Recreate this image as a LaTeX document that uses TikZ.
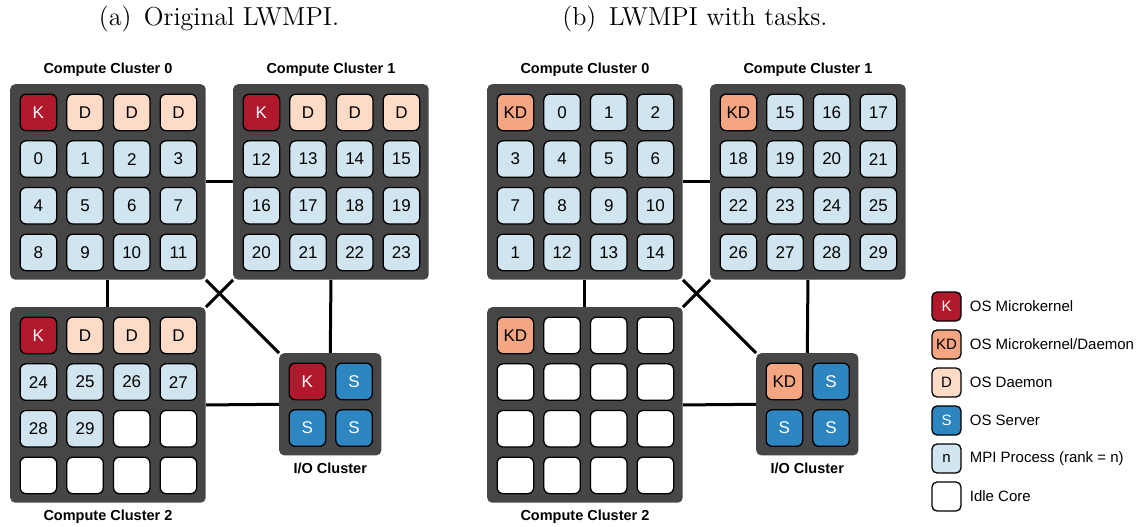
\documentclass[tikz,border=0pt]{standalone}
\usepackage{fontspec}
\newfontfamily\arialfont{Liberation Sans}
\newfontfamily\titlefont{lmroman12-regular}[Extension=.otf]
\pgfdeclarelayer{background}
\pgfsetlayers{background,main}

\definecolor{boxgray}{HTML}{464646}
\definecolor{kred}{HTML}{B2182B}
\definecolor{kdorange}{HTML}{F4A582}
\definecolor{dpeach}{HTML}{FDDBC7}
\definecolor{sblue}{HTML}{2E86C1}
\definecolor{nblue}{HTML}{D1E5F0}

\tikzset{
  clusterbox/.style={fill=boxgray, rounded corners=5pt, inner sep=0pt, anchor=north west},
  core/.style={draw=black, line width=1.3pt, rounded corners=6pt,
    minimum width=36.5pt, minimum height=36.5pt, inner sep=0pt, anchor=north west,
    font=\arialfont\fontsize{17}{17}\selectfont},
  legcore/.style={core, minimum width=29pt, minimum height=29pt, rounded corners=5pt,
    font=\arialfont\fontsize{15}{15}\selectfont, anchor=center},
  legtext/.style={anchor=west, inner sep=0pt, font=\arialfont\fontsize{15}{15}\selectfont},
  clabel/.style={inner sep=0pt, font=\arialfont\bfseries\fontsize{14.5}{14.5}\selectfont},
  link/.style={line width=3pt, black},
  subtitle/.style={anchor=base, inner sep=0pt, font=\titlefont\fontsize{26}{30}\selectfont},
}

% #1 name, #2 left, #3 top, #4 cores per row, #5 list fill/text/label
\newcommand\drawcluster[5]{%
  \pgfmathsetmacro\csize{2*9.5+(#4-1)*46.67+36.5}
  \node[clusterbox, minimum width=\csize pt, minimum height=\csize pt] (#1) at (#2,#3) {};
  \foreach \fc/\tc/\lab [count=\i from 0] in {#5}{
    \pgfmathtruncatemacro\col{mod(\i,#4)}
    \pgfmathtruncatemacro\row{div(\i,#4)}
    \node[core, fill=\fc, text=\tc] (#1-\i) at ({#2+9.5+46.67*\col},{#3+9.5+46.67*\row}) {\lab};
  }
}

% network links between the four clusters of one board
\newcommand\drawlinks[1]{%
  \begin{pgfonlayer}{background}
    \draw[link] (#10.east) -- (#11.west);
    \draw[link] (#10.south) -- (#12.north);
    \draw[link] (#11.south) -- (#1io.north);
    \draw[link] (#12.east) -- (#1io.west);
    \draw[link] (#10.south east) -- (#1io.north west);
    \draw[link] (#11.south west) -- (#12.north east);
  \end{pgfonlayer}
}

\newcommand\drawlabels[1]{%
  \node[clabel, above=7pt] (#10l) at (#10.north) {Compute Cluster 0};
  \node[clabel, above=7pt] (#11l) at (#11.north) {Compute Cluster 1};
  \node[clabel, below=7pt] (#12l) at (#12.south) {Compute Cluster 2};
  \node[clabel, below=7pt] (#1iol) at (#1io.south) {I/O Cluster};
}

\begin{document}
\begin{tikzpicture}[x=1pt, y=-1pt]
\useasboundingbox (0,0) rectangle (1143,527);

\node[subtitle] (ta) at (219,26) {(a)\hspace{4pt} Original LWMPI.};
\node[subtitle] (tb) at (695,26) {(b)\hspace{4pt} LWMPI with tasks.};

% ---- (a) original LWMPI ----
\drawcluster{a0}{10}{84}{4}{kred/white/K, dpeach/black/D, dpeach/black/D, dpeach/black/D,
  nblue/black/0, nblue/black/1, nblue/black/2, nblue/black/3,
  nblue/black/4, nblue/black/5, nblue/black/6, nblue/black/7,
  nblue/black/8, nblue/black/9, nblue/black/10, nblue/black/11}
\drawcluster{a1}{233}{84}{4}{kred/white/K, dpeach/black/D, dpeach/black/D, dpeach/black/D,
  nblue/black/12, nblue/black/13, nblue/black/14, nblue/black/15,
  nblue/black/16, nblue/black/17, nblue/black/18, nblue/black/19,
  nblue/black/20, nblue/black/21, nblue/black/22, nblue/black/23}
\drawcluster{a2}{10}{307}{4}{kred/white/K, dpeach/black/D, dpeach/black/D, dpeach/black/D,
  nblue/black/24, nblue/black/25, nblue/black/26, nblue/black/27,
  nblue/black/28, nblue/black/29, white/black/{}, white/black/{},
  white/black/{}, white/black/{}, white/black/{}, white/black/{}}
\drawcluster{aio}{279}{353}{2}{kred/white/K, sblue/white/S, sblue/white/S, sblue/white/S}
\drawlinks{a}
\drawlabels{a}

% ---- (b) LWMPI with tasks ----
\drawcluster{b0}{487}{84}{4}{kdorange/black/KD, nblue/black/0, nblue/black/1, nblue/black/2,
  nblue/black/3, nblue/black/4, nblue/black/5, nblue/black/6,
  nblue/black/7, nblue/black/8, nblue/black/9, nblue/black/10,
  nblue/black/1, nblue/black/12, nblue/black/13, nblue/black/14}
\drawcluster{b1}{710}{84}{4}{kdorange/black/KD, nblue/black/15, nblue/black/16, nblue/black/17,
  nblue/black/18, nblue/black/19, nblue/black/20, nblue/black/21,
  nblue/black/22, nblue/black/23, nblue/black/24, nblue/black/25,
  nblue/black/26, nblue/black/27, nblue/black/28, nblue/black/29}
\drawcluster{b2}{487}{307}{4}{kdorange/black/KD, white/black/{}, white/black/{}, white/black/{},
  white/black/{}, white/black/{}, white/black/{}, white/black/{},
  white/black/{}, white/black/{}, white/black/{}, white/black/{},
  white/black/{}, white/black/{}, white/black/{}, white/black/{}}
\drawcluster{bio}{756}{353}{2}{kdorange/black/KD, sblue/white/S, sblue/white/S, sblue/white/S}
\drawlinks{b}
\drawlabels{b}

% ---- legend ----
\foreach \fc/\tc/\lab/\txt [count=\i] in {
  kred/white/K/OS Microkernel,
  kdorange/black/KD/{OS Microkernel/Daemon},
  dpeach/black/D/OS Daemon,
  sblue/white/S/OS Server,
  nblue/black/n/{MPI Process (rank = n)},
  white/black/{}/Idle Core}{
  \node[legcore, fill=\fc, text=\tc] (lg\i) at (946.5,{306.5+38*(\i-1)}) {\lab};
  \node[legtext] (lt\i) at ([xshift=8pt]lg\i.east) {\txt};
}
\end{tikzpicture}
\end{document}
